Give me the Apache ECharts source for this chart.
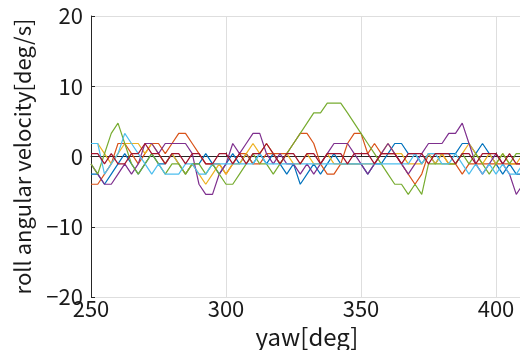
<!DOCTYPE html>
<html>
<head>
<meta charset="utf-8">
<script src="https://cdn.jsdelivr.net/npm/echarts@6/dist/echarts.min.js"></script>
<style>
  html, body { margin: 0; padding: 0; background: #fff; }
  #chart { width: 520px; height: 350px; }
</style>
</head>
<body>
<div id="chart"></div>
<script>
// yaw [deg] sample positions
const yaw = [250, 252.5, 255, 257.5, 260, 262.5, 265, 267.5, 270, 272.5,
  275, 277.5, 280, 282.5, 285, 287.5, 290, 292.5, 295, 297.5,
  300, 302.5, 305, 307.5, 310, 312.5, 315, 317.5, 320, 322.5,
  325, 327.5, 330, 332.5, 335, 337.5, 340, 342.5, 345, 347.5,
  350, 352.5, 355, 357.5, 360, 362.5, 365, 367.5, 370, 372.5,
  375, 377.5, 380, 382.5, 385, 387.5, 390, 392.5, 395, 397.5,
  400, 402.5, 405, 407.5, 410];

// roll angular velocity [deg/s], one array per trial
const blueVals = [-2.5, -2.5, -3.95, -2.5, -1.05, 0.4, -1.05, -2.5, -1.05, 0.4,
  -1.05, -1.05, 0.4, -1.05, -2.5, -1.05, -1.05, 0.4, -1.05, -2.5,
  -1.05, 0.4, -1.05, 0.4, -1.05, 0.4, -1.05, 0.4, -1.05, -2.5,
  -1.05, -3.95, -2.5, -1.05, -2.5, -1.05, 0.4, -1.05, -1.05, -1.05,
  -1.05, -2.5, -1.05, -1.05, 0.4, 1.85, 1.85, 0.4, 0.4, -1.05,
  0.4, -1.05, 0.4, 0.4, 0.4, 1.85, 1.85, 0.4, 1.85, 0.4,
  -1.05, -2.5, -1.05, -2.5, -2.5];
const orangeVals = [-3.95, -3.95, -2.5, -1.05, 1.85, 1.85, 0.4, -1.05, 0.4, 1.85,
  1.85, 0.4, 1.85, 3.3, 3.3, 1.85, 0.4, -1.05, -1.05, -1.05,
  -2.5, -1.05, 0.4, 0.4, -1.05, -1.05, 0.4, 0.4, 0.4, 0.4,
  1.85, 3.3, 3.3, 1.85, -1.05, -2.5, -2.5, -1.05, 1.85, 3.3,
  3.3, 0.4, 1.85, 0.4, 0.4, 0.4, -1.05, -2.5, -3.95, -2.5,
  0.4, 0.4, 0.4, -1.05, -1.05, -2.5, -1.05, -1.05, -1.05, -1.05,
  -1.05, -1.05, -1.05, -1.05, -1.05];
const yellowVals = [1.85, 1.85, 0.4, -1.05, 0.4, 1.85, 1.85, 1.85, 0.4, 1.85,
  0.4, -1.05, 0.4, -1.05, -2.5, -1.05, -2.5, -3.95, -2.5, -1.05,
  -2.5, -1.05, -1.05, 0.4, 1.85, 0.4, 1.85, 0.4, -1.05, 0.4,
  -1.05, -1.05, 0.4, -1.05, -1.05, 0.4, -1.05, -1.05, -1.05, -1.05,
  -1.05, -1.05, -1.05, 0.4, 1.85, 0.4, 0.4, -1.05, -1.05, -1.05,
  0.4, -1.05, 0.4, -1.05, -1.05, 0.4, 1.85, 0.4, -1.05, 0.4,
  -1.05, 0.4, -1.05, -1.05, 0.4];
const purpleVals = [-1.05, -2.5, -3.95, -3.95, -2.5, -1.05, -2.5, -1.05, 1.85, 1.85,
  0.4, 1.85, 1.85, 1.85, 1.85, 0.4, -3.95, -5.4, -5.4, -2.5,
  -1.05, 1.85, 0.4, 1.85, 3.3, 3.3, 0.4, -1.05, 0.4, -1.05,
  -1.05, -2.5, -1.05, -2.5, -1.05, 0.4, 1.85, 1.85, 1.85, 0.4,
  -1.05, -2.5, -1.05, 0.4, 1.85, 0.4, -1.05, -2.5, -1.05, 0.4,
  1.85, 1.85, 1.85, 3.3, 3.3, 4.75, 1.85, -1.05, -2.5, -1.05,
  0.4, -1.05, -2.5, -5.4, -3.95];
const greenVals = [-1.05, -2.5, 0.4, 3.3, 4.75, 1.85, -1.05, -2.5, -1.05, 0.4,
  -1.05, -2.5, -1.05, -1.05, -2.5, -1.05, -1.05, -2.5, -1.05, -2.5,
  -3.95, -3.95, -2.5, -1.05, 0.4, -1.05, -1.05, -2.5, -1.05, 0.4,
  1.85, 3.3, 4.75, 6.2, 6.2, 7.6, 7.6, 7.6, 6.2, 4.75,
  3.3, 1.85, 0.4, -1.05, -2.5, -3.95, -3.95, -5.4, -3.95, -5.4,
  -1.05, -1.05, -1.05, -1.05, -1.05, 0.4, -1.05, 0.4, -1.05, -2.5,
  -1.05, 0.4, -1.05, 0.4, 0.4];
const lightBlueVals = [1.85, 1.85, -2.5, -1.05, 0.4, 3.3, 1.85, 0.4, -1.05, -2.5,
  -1.05, -2.5, -2.5, -2.5, -1.05, -1.05, -2.5, -2.5, -1.05, -1.05,
  -1.05, -1.05, -1.05, -1.05, -1.05, 0.4, -1.05, -1.05, -1.05, -1.05,
  -1.05, -1.05, -1.05, -1.05, -1.05, -1.05, -1.05, -1.05, -1.05, -1.05,
  -1.05, -1.05, -1.05, -1.05, -1.05, -1.05, -1.05, -1.05, 0.4, -1.05,
  0.4, 0.4, -1.05, -1.05, 0.4, -1.05, -2.5, -1.05, -2.5, -1.05,
  -2.5, -1.05, -2.5, -2.5, -1.05];
const darkRedVals = [0.4, 0.4, -1.05, 0.4, -1.05, -1.05, 0.4, 0.4, 1.85, 0.4,
  0.4, -1.05, 0.4, 0.4, -1.05, 0.4, 0.4, -1.05, -1.05, 0.4,
  0.4, -1.05, 0.4, -1.05, 0.4, 0.4, 1.85, 0.4, -1.05, 0.4,
  0.4, -1.05, 0.4, 0.4, -1.05, 0.4, 0.4, 0.4, -1.05, 0.4,
  0.4, 0.4, -1.05, 0.4, 0.4, 0.4, -1.05, 0.4, 0.4, 0.4,
  -1.05, 0.4, 0.4, 0.4, -1.05, 0.4, 0.4, -1.05, 0.4, 0.4,
  0.4, -1.05, 0.4, -1.05, -1.05];

const xTicks = [250, 300, 350, 400];
const yTicks = [-20, -10, 0, 10, 20];

const traces = [
  { vals: blueVals, color: "#0072BD" },
  { vals: orangeVals, color: "#D95319" },
  { vals: yellowVals, color: "#EDB120" },
  { vals: purpleVals, color: "#7E2F8E" },
  { vals: greenVals, color: "#77AC30" },
  { vals: lightBlueVals, color: "#4DBEEE" },
  { vals: darkRedVals, color: "#A2142F" },
];

const FONT = "'Noto Sans CJK JP', 'DejaVu Sans', sans-serif";
const TEXT_COLOR = "#1a1a1a";

const chart = echarts.init(document.getElementById("chart"));

const option = {
  animation: false,
  backgroundColor: "#fff",
  grid: {
    left: 91,
    right: -3,
    top: 16,
    bottom: 53,
    outerBoundsMode: "none",
    containLabel: false,
  },
  xAxis: {
    type: "value",
    min: 250,
    max: 410,
    interval: 50,
    name: "yaw[deg]",
    nameLocation: "middle",
    nameGap: 28,
    nameTextStyle: { fontSize: 24, color: TEXT_COLOR, fontFamily: FONT },
    axisLine: { show: true, lineStyle: { color: "#262626", width: 1 } },
    axisTick: { show: true, inside: true, length: 4, lineStyle: { color: "#262626" } },
    axisLabel: {
      fontSize: 22,
      color: TEXT_COLOR,
      fontFamily: FONT,
      margin: 1,
      showMaxLabel: false,
      formatter: (v) => (xTicks.includes(v) ? String(v) : ""),
    },
    splitLine: { show: true, lineStyle: { color: "#dedede", width: 1 } },
  },
  yAxis: {
    type: "value",
    min: -20,
    max: 20,
    interval: 10,
    name: "roll angular velocity[deg/s]",
    nameLocation: "middle",
    nameGap: 57,
    nameTextStyle: { fontSize: 22, color: TEXT_COLOR, fontFamily: FONT },
    axisLine: { show: true, lineStyle: { color: "#262626", width: 1 } },
    axisTick: { show: true, inside: true, length: 4, lineStyle: { color: "#262626" } },
    axisLabel: {
      fontSize: 22,
      color: TEXT_COLOR,
      fontFamily: FONT,
      margin: 8,
      formatter: (v) => (yTicks.includes(v) ? String(v).replace("-", "\u2212") : ""),
    },
    splitLine: { show: true, lineStyle: { color: "#dedede", width: 1 } },
  },
  series: traces.map((t) => ({
    type: "line",
    data: yaw.map((x, i) => [x, t.vals[i]]),
    showSymbol: false,
    symbol: "none",
    lineStyle: { color: t.color, width: 1.2 },
    itemStyle: { color: t.color },
  })),
};

chart.setOption(option);
</script>
</body>
</html>
